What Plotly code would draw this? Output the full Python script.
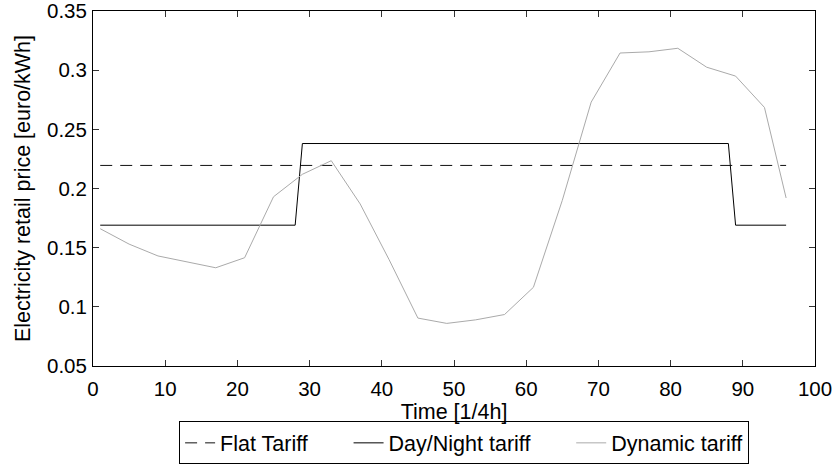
import plotly.graph_objects as go

# Quarter-hour time steps of the day
time_dynamic = [1, 5, 9, 13, 17, 21, 25, 29, 33, 37, 41, 45, 49, 53, 57, 61,
                65, 69, 73, 77, 81, 85, 89, 93, 96]
price_dynamic = [0.166, 0.153, 0.143, 0.138, 0.133, 0.1415, 0.193, 0.212, 0.2235,
                 0.187, 0.140, 0.0905, 0.086, 0.089, 0.0935, 0.1165, 0.190, 0.273,
                 0.3145, 0.3155, 0.3185, 0.3025, 0.295, 0.2685, 0.192]

time_daynight = [1, 28, 29, 88, 89, 96]
price_daynight = [0.169, 0.169, 0.238, 0.238, 0.169, 0.169]

time_flat = [1, 96]
price_flat = [0.2195, 0.2195]

y_ticks = [0.05, 0.1, 0.15, 0.2, 0.25, 0.3, 0.35]
y_tick_labels = ["0.05", "0.1", "0.15", "0.2", "0.25", "0.3", "0.35"]
x_ticks = [0, 10, 20, 30, 40, 50, 60, 70, 80, 90, 100]

font_family = "Liberation Sans, Arial, sans-serif"
tick_size = 20.5
label_size = 21.5
pad = "\u00a0" * 6  # extra room between legend entries

fig = go.Figure()
fig.add_trace(go.Scatter(x=time_flat, y=price_flat, mode="lines",
                         name="Flat Tariff" + pad,
                         line=dict(color="#111111", width=1, dash="12px,8px")))
fig.add_trace(go.Scatter(x=time_daynight, y=price_daynight, mode="lines",
                         name="Day/Night tariff" + pad,
                         line=dict(color="#000000", width=1)))
fig.add_trace(go.Scatter(x=time_dynamic, y=price_dynamic, mode="lines",
                         name="Dynamic tariff", line=dict(color="#aaaaaa", width=1)))

axis_common = dict(showgrid=False, zeroline=False, showline=True, linecolor="#000000",
                   linewidth=1, mirror="ticks", ticks="inside", ticklen=6,
                   tickcolor="#333333", tickwidth=1, automargin=False,
                   ticklabeloverflow="allow",
                   tickfont=dict(family=font_family, size=tick_size, color="#000000"),
                   title_font=dict(family=font_family, size=label_size, color="#000000"))

fig.update_xaxes(range=[0, 100], tickvals=x_ticks, title_text="Time [1/4h]",
                 ticklabelstandoff=4, title_standoff=2, **axis_common)
fig.update_yaxes(range=[0.05, 0.35], tickvals=y_ticks, ticktext=y_tick_labels,
                 title_text="Electricity retail price [euro/kWh]",
                 ticklabelstandoff=1, title_standoff=10, **axis_common)

fig.update_layout(
    width=836, height=471,
    margin=dict(l=93, r=21, t=11, b=105, autoexpand=False),
    paper_bgcolor="white", plot_bgcolor="white",
    font=dict(family=font_family, size=label_size, color="#000000"),
    legend=dict(orientation="h", x=0.514, xanchor="center", y=-0.156, yanchor="top",
                bordercolor="#000000", borderwidth=1, bgcolor="white",
                font=dict(family=font_family, size=label_size),
                tracegroupgap=0),
    showlegend=True,
)

fig.write_html("out.html")
